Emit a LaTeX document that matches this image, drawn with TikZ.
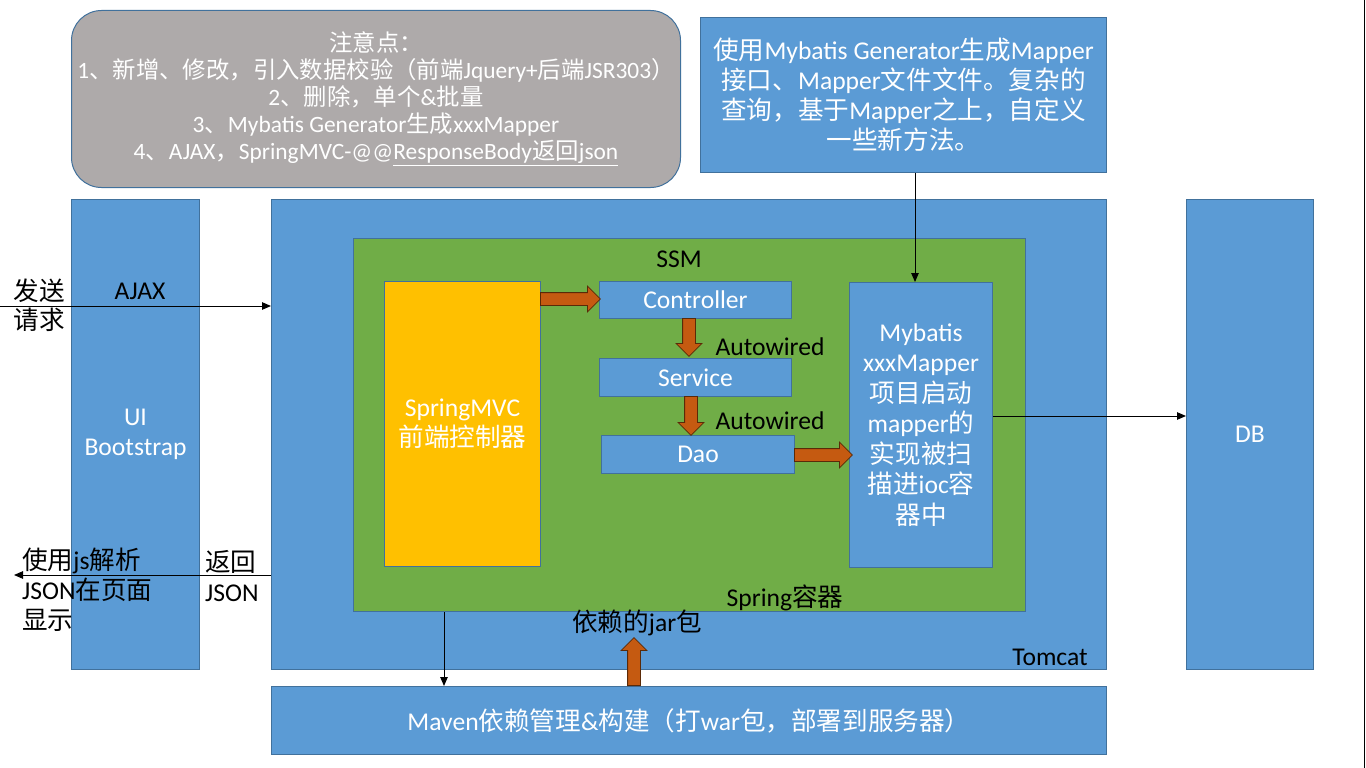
\documentclass[tikz,border=0pt]{standalone}
\usepackage{fontspec}
\setmainfont{Carlito}
\newfontfamily\latinfont{Carlito}
\newfontfamily\cjkfont{Noto Sans CJK SC}
\usetikzlibrary{arrows.meta,shapes.arrows,calc}

\XeTeXinterchartokenstate=1
\newXeTeXintercharclass\mycjkclass
\newcount\mycnt
\def\setcjkrange#1#2{\mycnt=#1\relax\loop\XeTeXcharclass\mycnt=\mycjkclass\relax\ifnum\mycnt<#2\relax\advance\mycnt by 1\relax\repeat}
\setcjkrange{"3000}{"303F}
\setcjkrange{"4E00}{"9FFF}
\setcjkrange{"FF00}{"FFEF}
\XeTeXinterchartoks 0 \mycjkclass = {\cjkfont}
\XeTeXinterchartoks 4095 \mycjkclass = {\cjkfont}
\XeTeXinterchartoks \mycjkclass 0 = {\latinfont}
\XeTeXinterchartoks \mycjkclass 4095 = {\latinfont}

\definecolor{boxblue}{HTML}{5B9BD5}
\definecolor{bordblue}{HTML}{41719C}
\definecolor{ssmgreen}{HTML}{70AD47}
\definecolor{mvcyellow}{HTML}{FFC000}
\definecolor{notegray}{HTML}{AEAAAA}
\definecolor{arrorange}{HTML}{C55A11}
\definecolor{arrdark}{HTML}{5A2A08}

\tikzset{
  basebox/.style={draw=bordblue, line width=1pt, inner sep=0pt, anchor=north west, text=white, align=center},
  bluebox/.style={basebox, fill=boxblue},
  f24/.style={font=\fontsize{25.6}{30}\selectfont},
  lab/.style={text=black, inner sep=0pt, f24},
  thinarr/.style={draw=black, line width=1pt, -{Triangle[length=9pt,width=7.5pt]}},
  blockarr/.style={single arrow, fill=arrorange, draw=arrdark, line width=0.8pt,
    minimum width=25pt, single arrow head extend=6.5pt, single arrow head indent=0pt,
    inner xsep=0pt, inner ysep=6pt, anchor=west},
}

\begin{document}
\begin{tikzpicture}[x=1pt,y=-1pt]
\useasboundingbox (0,0) rectangle (1366,768);
\fill[white] (0,0) rectangle (1366,768);

% boxes
\node[basebox, fill=notegray, rounded corners=30pt, minimum width=609pt, minimum height=177pt,
  font=\fontsize{23.4}{27}\selectfont] (note) at (71,10)
  {注意点：\\1、新增、修改，引入数据校验（前端Jquery+后端JSR303）\\2、删除，单个\&批量\\3、Mybatis Generator生成xxxMapper\\4、AJAX，SpringMVC-@@\underline{ResponseBody返回json}};
\node[bluebox, minimum width=406pt, minimum height=155pt, f24] (gen) at (700,17)
  {使用Mybatis Generator生成Mapper\\接口、Mapper文件文件。复杂的\\查询，基于Mapper之上，自定义\\一些新方法。};
\node[bluebox, minimum width=128pt, minimum height=470pt, f24] (ui) at (71,199) {UI\\Bootstrap};
\node[bluebox, minimum width=835pt, minimum height=470pt] (tomcat) at (271,199) {};
\node[basebox, fill=ssmgreen, minimum width=672pt, minimum height=373pt] (ssm) at (353,238) {};
\node[basebox, fill=mvcyellow, minimum width=156pt, minimum height=285pt, f24] (mvc) at (384,281) {SpringMVC\\前端控制器};
\node[bluebox, minimum width=192pt, minimum height=37pt, f24] (ctrl) at (599,281) {Controller};
\node[bluebox, minimum width=192pt, minimum height=38pt, f24] (svc) at (599,358) {Service};
\node[bluebox, minimum width=193pt, minimum height=38pt, f24] (dao) at (601,435) {Dao};
\node[bluebox, minimum width=143pt, minimum height=285pt, font=\fontsize{25.6}{30.5}\selectfont] (mapper) at (849,282)
  {Mybatis\\xxxMapper\\项目启动\\mapper的\\实现被扫\\描进ioc容\\器中};
\node[bluebox, minimum width=127pt, minimum height=470pt, f24] (db) at (1186,199) {DB};
\node[bluebox, minimum width=835pt, minimum height=68pt, f24] (maven) at (271,686)
  {Maven依赖管理\&构建（打war包，部署到服务器）};

% labels
\node[lab] (ajax) at (140,291) {AJAX};
\node[lab] (ssmlab) at (679,259) {SSM};
\node[lab] (springlab) at (785,598) {Spring容器};
\node[lab] (tomcatlab) at (1050,657) {Tomcat};
\node[lab] (aw1) at (770,347) {Autowired};
\node[lab] (aw2) at (770,421) {Autowired};
\node[lab] (jarlab) at (637,623) {依赖的jar包};
\node[lab, align=center, font=\fontsize{25.6}{29}\selectfont] (sendlab) at (39,305.5) {发送\\请求};
\node[lab, align=left, anchor=west] (parselab) at (22,590) {使用js解析\\JSON在页面\\显示};
\node[lab, align=left, anchor=west] (retlab) at (205,576) {返回\\JSON};

% thin connectors
\coordinate (reqstart) at (0,306);
\draw[thinarr] (reqstart) -- (reqstart -| tomcat.west);
\coordinate (retend) at (14,575);
\draw[thinarr] (retend -| tomcat.west) -- (retend);
\coordinate (mdb) at (992,416);
\draw[thinarr] (mdb -| mapper.east) -- (mdb -| db.west);
\coordinate (genx) at (915,0);
\draw[thinarr] (genx |- gen.south) -- (genx |- mapper.north);
\coordinate (smx) at (444,0);
\draw[thinarr] (smx |- ssm.south) -- (smx |- maven.north);

% block arrows
\node[blockarr, minimum height=60pt] (a1) at (540,299) {};
\node[blockarr, minimum height=38pt, rotate=-90] (a2) at (689,318) {};
\node[blockarr, minimum height=39pt, rotate=-90] (a3) at (691,396) {};
\node[blockarr, minimum height=58pt] (a4) at (794,455) {};
\node[blockarr, minimum height=48pt, rotate=90] (a5) at (634,686) {};

% slide edge
\draw[line width=1.5pt] (1364.5,0) -- (1364.5,768);
\end{tikzpicture}
\end{document}
